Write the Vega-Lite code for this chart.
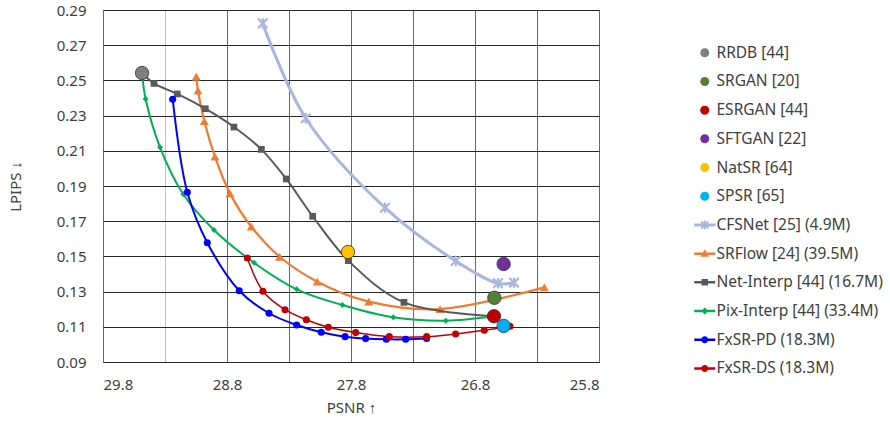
{
  "$schema": "https://vega.github.io/schema/vega-lite/v6.json",
  "width": 496,
  "height": 352,
  "padding": {"left": 8, "top": 3, "right": 5, "bottom": 5},
  "background": "white",
  "config": {
    "font": "Noto Sans",
    "view": {"stroke": "#595959", "strokeWidth": 1},
    "axis": {
      "labelFont": "Noto Sans", "labelFontSize": 15, "labelColor": "#404040",
      "titleFont": "Noto Sans", "titleFontSize": 15, "titleFontWeight": "normal", "titleColor": "#404040",
      "ticks": false, "tickSize": 0, "domain": false, "gridOpacity": 1, "gridWidth": 1, "labelOverlap": false
    },
    "legend": {
      "orient": "none", "legendX": 594, "legendY": 35, "padding": 0,
      "labelFont": "Noto Sans", "labelFontSize": 15.5, "labelColor": "#404040", "labelLimit": 400,
      "symbolSize": 100, "rowPadding": 11.7, "labelOffset": 4, "symbolStrokeWidth": 0, "symbolOpacity": 1
    }
  },
  "datasets": {
    "singles": [
      {"name": "RRDB [44]", "psnr": 29.485, "lpips": 0.2542},
      {"name": "SRGAN [20]", "psnr": 26.644, "lpips": 0.1265},
      {"name": "ESRGAN [44]", "psnr": 26.647, "lpips": 0.116},
      {"name": "SFTGAN [22]", "psnr": 26.569, "lpips": 0.1457},
      {"name": "NatSR [64]", "psnr": 27.824, "lpips": 0.1525},
      {"name": "SPSR [65]", "psnr": 26.569, "lpips": 0.1105}
    ],
    "series": [
      {"name": "CFSNet [25] (4.9M)", "k": 1, "psnr": 28.512, "lpips": 0.2824},
      {"name": "CFSNet [25] (4.9M)", "k": 2, "psnr": 28.165, "lpips": 0.2285},
      {"name": "CFSNet [25] (4.9M)", "k": 3, "psnr": 27.526, "lpips": 0.1777},
      {"name": "CFSNet [25] (4.9M)", "k": 4, "psnr": 26.956, "lpips": 0.1474},
      {"name": "CFSNet [25] (4.9M)", "k": 5, "psnr": 26.615, "lpips": 0.1347},
      {"name": "CFSNet [25] (4.9M)", "k": 6, "psnr": 26.485, "lpips": 0.1351},
      {"name": "SRFlow [24] (39.5M)", "k": 1, "psnr": 29.048, "lpips": 0.2521},
      {"name": "SRFlow [24] (39.5M)", "k": 2, "psnr": 29.034, "lpips": 0.2442},
      {"name": "SRFlow [24] (39.5M)", "k": 3, "psnr": 28.983, "lpips": 0.2269},
      {"name": "SRFlow [24] (39.5M)", "k": 4, "psnr": 28.897, "lpips": 0.2067},
      {"name": "SRFlow [24] (39.5M)", "k": 5, "psnr": 28.776, "lpips": 0.1858},
      {"name": "SRFlow [24] (39.5M)", "k": 6, "psnr": 28.604, "lpips": 0.1669},
      {"name": "SRFlow [24] (39.5M)", "k": 7, "psnr": 28.375, "lpips": 0.1498},
      {"name": "SRFlow [24] (39.5M)", "k": 8, "psnr": 28.072, "lpips": 0.1356},
      {"name": "SRFlow [24] (39.5M)", "k": 9, "psnr": 27.657, "lpips": 0.1243},
      {"name": "SRFlow [24] (39.5M)", "k": 10, "psnr": 27.082, "lpips": 0.1201},
      {"name": "SRFlow [24] (39.5M)", "k": 11, "psnr": 26.241, "lpips": 0.1324},
      {"name": "Net-Interp [44] (16.7M)", "k": 0, "psnr": 29.485, "lpips": 0.2542},
      {"name": "Net-Interp [44] (16.7M)", "k": 1, "psnr": 29.389, "lpips": 0.2483},
      {"name": "Net-Interp [44] (16.7M)", "k": 2, "psnr": 29.201, "lpips": 0.2423},
      {"name": "Net-Interp [44] (16.7M)", "k": 3, "psnr": 28.975, "lpips": 0.2339},
      {"name": "Net-Interp [44] (16.7M)", "k": 4, "psnr": 28.744, "lpips": 0.2235},
      {"name": "Net-Interp [44] (16.7M)", "k": 5, "psnr": 28.523, "lpips": 0.2108},
      {"name": "Net-Interp [44] (16.7M)", "k": 6, "psnr": 28.322, "lpips": 0.194},
      {"name": "Net-Interp [44] (16.7M)", "k": 7, "psnr": 28.109, "lpips": 0.1728},
      {"name": "Net-Interp [44] (16.7M)", "k": 8, "psnr": 27.822, "lpips": 0.1476},
      {"name": "Net-Interp [44] (16.7M)", "k": 9, "psnr": 27.373, "lpips": 0.1239},
      {"name": "Net-Interp [44] (16.7M)", "k": 10, "psnr": 26.647, "lpips": 0.116},
      {"name": "Pix-Interp [44] (33.4M)", "k": 0, "psnr": 29.485, "lpips": 0.2542},
      {"name": "Pix-Interp [44] (33.4M)", "k": 1, "psnr": 29.456, "lpips": 0.2394},
      {"name": "Pix-Interp [44] (33.4M)", "k": 2, "psnr": 29.34, "lpips": 0.212},
      {"name": "Pix-Interp [44] (33.4M)", "k": 3, "psnr": 29.152, "lpips": 0.1853},
      {"name": "Pix-Interp [44] (33.4M)", "k": 4, "psnr": 28.905, "lpips": 0.165},
      {"name": "Pix-Interp [44] (33.4M)", "k": 5, "psnr": 28.582, "lpips": 0.1464},
      {"name": "Pix-Interp [44] (33.4M)", "k": 6, "psnr": 28.238, "lpips": 0.1313},
      {"name": "Pix-Interp [44] (33.4M)", "k": 7, "psnr": 27.87, "lpips": 0.1224},
      {"name": "Pix-Interp [44] (33.4M)", "k": 8, "psnr": 27.459, "lpips": 0.1154},
      {"name": "Pix-Interp [44] (33.4M)", "k": 9, "psnr": 27.036, "lpips": 0.1135},
      {"name": "Pix-Interp [44] (33.4M)", "k": 10, "psnr": 26.647, "lpips": 0.116},
      {"name": "FxSR-PD (18.3M)", "k": 1, "psnr": 29.238, "lpips": 0.2393},
      {"name": "FxSR-PD (18.3M)", "k": 2, "psnr": 29.12, "lpips": 0.1864},
      {"name": "FxSR-PD (18.3M)", "k": 3, "psnr": 28.959, "lpips": 0.1578},
      {"name": "FxSR-PD (18.3M)", "k": 4, "psnr": 28.701, "lpips": 0.1305},
      {"name": "FxSR-PD (18.3M)", "k": 5, "psnr": 28.461, "lpips": 0.1177},
      {"name": "FxSR-PD (18.3M)", "k": 6, "psnr": 28.238, "lpips": 0.111},
      {"name": "FxSR-PD (18.3M)", "k": 7, "psnr": 28.04, "lpips": 0.1069},
      {"name": "FxSR-PD (18.3M)", "k": 8, "psnr": 27.848, "lpips": 0.1044},
      {"name": "FxSR-PD (18.3M)", "k": 9, "psnr": 27.682, "lpips": 0.1033},
      {"name": "FxSR-PD (18.3M)", "k": 10, "psnr": 27.515, "lpips": 0.1029},
      {"name": "FxSR-PD (18.3M)", "k": 11, "psnr": 27.359, "lpips": 0.1029},
      {"name": "FxSR-PD (18.3M)", "k": 12, "psnr": 27.19, "lpips": 0.1034},
      {"name": "FxSR-DS (18.3M)", "k": 1, "psnr": 28.636, "lpips": 0.1491},
      {"name": "FxSR-DS (18.3M)", "k": 2, "psnr": 28.51, "lpips": 0.1302},
      {"name": "FxSR-DS (18.3M)", "k": 3, "psnr": 28.332, "lpips": 0.1197},
      {"name": "FxSR-DS (18.3M)", "k": 4, "psnr": 28.16, "lpips": 0.114},
      {"name": "FxSR-DS (18.3M)", "k": 5, "psnr": 27.983, "lpips": 0.1097},
      {"name": "FxSR-DS (18.3M)", "k": 6, "psnr": 27.762, "lpips": 0.1067},
      {"name": "FxSR-DS (18.3M)", "k": 7, "psnr": 27.491, "lpips": 0.1044},
      {"name": "FxSR-DS (18.3M)", "k": 8, "psnr": 27.19, "lpips": 0.1044},
      {"name": "FxSR-DS (18.3M)", "k": 9, "psnr": 26.956, "lpips": 0.1059},
      {"name": "FxSR-DS (18.3M)", "k": 10, "psnr": 26.725, "lpips": 0.108},
      {"name": "FxSR-DS (18.3M)", "k": 11, "psnr": 26.518, "lpips": 0.1103}
    ]
  },
  "layer": [
    {
      "data": {"name": "series"},
      "transform": [{"filter": "datum.name == 'CFSNet [25] (4.9M)'"}],
      "mark": {"type": "line", "interpolate": "catmull-rom", "strokeWidth": 3},
      "encoding": {
        "x": {
          "field": "psnr", "type": "quantitative", "title": "PSNR ↑",
          "scale": {"domain": [25.8, 29.8], "reverse": true, "nice": false, "zero": false},
          "axis": {
            "values": [25.8, 26.3, 26.8, 27.3, 27.8, 28.3, 28.8, 29.3, 29.8],
            "tickCount": 20,
            "labelExpr": "indexof(['25.8','26.8','27.8','28.8','29.8'], format(datum.value,'.1f')) >= 0 ? format(datum.value,'.1f') : ''",
            "labelPadding": 15, "titlePadding": 8,
            "gridColor": {"condition": {"test": "abs(datum.value - 29.3) < 0.01", "value": "#c0c0c0"}, "value": "#6a6a6a"}
          }
        },
        "y": {
          "field": "lpips", "type": "quantitative", "title": "LPIPS ↓",
          "scale": {"domain": [0.09, 0.29], "nice": false, "zero": false},
          "axis": {
            "values": [0.09, 0.11, 0.13, 0.15, 0.17, 0.19, 0.21, 0.23, 0.25, 0.27, 0.29],
            "tickCount": 20,
            "format": ".2f", "labelPadding": 17, "titlePadding": 33, "gridColor": "#262626", "labelOverlap": false
          }
        },
        "order": {"field": "k", "type": "quantitative"},
        "color": {
          "field": "name", "type": "nominal",
          "scale": {
            "domain": ["RRDB [44]", "SRGAN [20]", "ESRGAN [44]", "SFTGAN [22]", "NatSR [64]", "SPSR [65]", "CFSNet [25] (4.9M)", "SRFlow [24] (39.5M)", "Net-Interp [44] (16.7M)", "Pix-Interp [44] (33.4M)", "FxSR-PD (18.3M)", "FxSR-DS (18.3M)"],
            "range": ["#7F7F7F", "#548235", "#C00000", "#7030A0", "#FFC000", "#00B0F0", "#A9B7E0", "#ED7D31", "#595959", "#00B050", "#0000FF", "#C00000"]
          },
          "legend": {"title": null}
        }
      }
    },
    {
      "data": {"name": "singles"},
      "transform": [{"filter": "false"}],
      "mark": {"type": "point", "filled": true, "opacity": 1},
      "encoding": {
        "x": {"field": "psnr", "type": "quantitative"},
        "y": {"field": "lpips", "type": "quantitative"},
        "color": {"field": "name", "type": "nominal"},
        "shape": {
          "field": "name", "type": "nominal",
          "scale": {
            "domain": ["RRDB [44]", "SRGAN [20]", "ESRGAN [44]", "SFTGAN [22]", "NatSR [64]", "SPSR [65]", "CFSNet [25] (4.9M)", "SRFlow [24] (39.5M)", "Net-Interp [44] (16.7M)", "Pix-Interp [44] (33.4M)", "FxSR-PD (18.3M)", "FxSR-DS (18.3M)"],
            "range": [
              "M0.9,0A0.9,0.9,0,1,1,-0.9,0A0.9,0.9,0,1,1,0.9,0Z",
              "M0.9,0A0.9,0.9,0,1,1,-0.9,0A0.9,0.9,0,1,1,0.9,0Z",
              "M0.9,0A0.9,0.9,0,1,1,-0.9,0A0.9,0.9,0,1,1,0.9,0Z",
              "M0.9,0A0.9,0.9,0,1,1,-0.9,0A0.9,0.9,0,1,1,0.9,0Z",
              "M0.9,0A0.9,0.9,0,1,1,-0.9,0A0.9,0.9,0,1,1,0.9,0Z",
              "M0.9,0A0.9,0.9,0,1,1,-0.9,0A0.9,0.9,0,1,1,0.9,0Z",
              "M-2.1,-0.3H2.1V0.3H-2.1ZM-0.84,-0.56L-0.56,-0.84L0.84,0.56L0.56,0.84ZM-0.84,0.56L0.56,-0.84L0.84,-0.56L-0.56,0.84ZM-0.18,-0.9H0.18V0.9H-0.18Z",
              "M-2.1,-0.25H2.1V0.25H-2.1ZM0,-0.9L0.85,0.6L-0.85,0.6Z",
              "M-2.1,-0.25H2.1V0.25H-2.1ZM-0.65,-0.65H0.65V0.65H-0.65Z",
              "M-2.1,-0.25H2.1V0.25H-2.1ZM0,-0.7L0.7,0L0,0.7L-0.7,0Z",
              "M-2.1,-0.25H2.1V0.25H-2.1ZM0.7,0A0.7,0.7,0,1,1,-0.7,0A0.7,0.7,0,1,1,0.7,0Z",
              "M-2.1,-0.25H2.1V0.25H-2.1ZM0.7,0A0.7,0.7,0,1,1,-0.7,0A0.7,0.7,0,1,1,0.7,0Z"
            ]
          },
          "legend": {"title": null}
        }
      }
    },
    {
      "data": {"name": "series"},
      "transform": [{"filter": "datum.name == 'CFSNet [25] (4.9M)'"}],
      "mark": {"type": "point", "filled": false, "shape": "M-1,-1L1,1M-1,1L1,-1M0,-1.1V1.1", "size": 90, "strokeWidth": 2.2, "opacity": 1},
      "encoding": {
        "x": {"field": "psnr", "type": "quantitative"},
        "y": {"field": "lpips", "type": "quantitative"},
        "color": {"field": "name", "type": "nominal"}
      }
    },
    {
      "data": {"name": "series"},
      "transform": [{"filter": "datum.name == 'SRFlow [24] (39.5M)'"}],
      "mark": {"type": "line", "interpolate": "catmull-rom", "strokeWidth": 2.25},
      "encoding": {
        "x": {"field": "psnr", "type": "quantitative"},
        "y": {"field": "lpips", "type": "quantitative"},
        "order": {"field": "k", "type": "quantitative"},
        "color": {"field": "name", "type": "nominal"}
      }
    },
    {
      "data": {"name": "series"},
      "transform": [{"filter": "datum.name == 'SRFlow [24] (39.5M)'"}],
      "mark": {"type": "point", "filled": true, "shape": "triangle-up", "size": 80, "opacity": 1},
      "encoding": {
        "x": {"field": "psnr", "type": "quantitative"},
        "y": {"field": "lpips", "type": "quantitative"},
        "color": {"field": "name", "type": "nominal"}
      }
    },
    {
      "data": {"name": "series"},
      "transform": [{"filter": "datum.name == 'Net-Interp [44] (16.7M)'"}],
      "mark": {"type": "line", "interpolate": "catmull-rom", "strokeWidth": 2},
      "encoding": {
        "x": {"field": "psnr", "type": "quantitative"},
        "y": {"field": "lpips", "type": "quantitative"},
        "order": {"field": "k", "type": "quantitative"},
        "color": {"field": "name", "type": "nominal"}
      }
    },
    {
      "data": {"name": "series"},
      "transform": [{"filter": "datum.name == 'Net-Interp [44] (16.7M)'"}],
      "mark": {"type": "point", "filled": true, "shape": "square", "size": 45, "opacity": 1},
      "encoding": {
        "x": {"field": "psnr", "type": "quantitative"},
        "y": {"field": "lpips", "type": "quantitative"},
        "color": {"field": "name", "type": "nominal"}
      }
    },
    {
      "data": {"name": "series"},
      "transform": [{"filter": "datum.name == 'Pix-Interp [44] (33.4M)'"}],
      "mark": {"type": "line", "interpolate": "catmull-rom", "strokeWidth": 2},
      "encoding": {
        "x": {"field": "psnr", "type": "quantitative"},
        "y": {"field": "lpips", "type": "quantitative"},
        "order": {"field": "k", "type": "quantitative"},
        "color": {"field": "name", "type": "nominal"}
      }
    },
    {
      "data": {"name": "series"},
      "transform": [{"filter": "datum.name == 'Pix-Interp [44] (33.4M)'"}],
      "mark": {"type": "point", "filled": true, "shape": "diamond", "size": 36, "opacity": 1},
      "encoding": {
        "x": {"field": "psnr", "type": "quantitative"},
        "y": {"field": "lpips", "type": "quantitative"},
        "color": {"field": "name", "type": "nominal"}
      }
    },
    {
      "data": {"name": "series"},
      "transform": [{"filter": "datum.name == 'FxSR-PD (18.3M)'"}],
      "mark": {"type": "line", "interpolate": "catmull-rom", "strokeWidth": 2},
      "encoding": {
        "x": {"field": "psnr", "type": "quantitative"},
        "y": {"field": "lpips", "type": "quantitative"},
        "order": {"field": "k", "type": "quantitative"},
        "color": {"field": "name", "type": "nominal"}
      }
    },
    {
      "data": {"name": "series"},
      "transform": [{"filter": "datum.name == 'FxSR-DS (18.3M)'"}],
      "mark": {"type": "line", "interpolate": "catmull-rom", "strokeWidth": 1.5},
      "encoding": {
        "x": {"field": "psnr", "type": "quantitative"},
        "y": {"field": "lpips", "type": "quantitative"},
        "order": {"field": "k", "type": "quantitative"},
        "color": {"field": "name", "type": "nominal"}
      }
    },
    {
      "data": {"name": "series"},
      "transform": [{"filter": "indexof(datum.name, 'FxSR') == 0"}],
      "mark": {"type": "circle", "size": 50, "opacity": 1},
      "encoding": {
        "x": {"field": "psnr", "type": "quantitative"},
        "y": {"field": "lpips", "type": "quantitative"},
        "color": {"field": "name", "type": "nominal"}
      }
    },
    {
      "data": {"name": "singles"},
      "mark": {"type": "circle", "size": 180, "opacity": 1, "stroke": "#333333", "strokeWidth": 0.8},
      "encoding": {
        "x": {"field": "psnr", "type": "quantitative"},
        "y": {"field": "lpips", "type": "quantitative"},
        "color": {"field": "name", "type": "nominal"}
      }
    }
  ]
}
